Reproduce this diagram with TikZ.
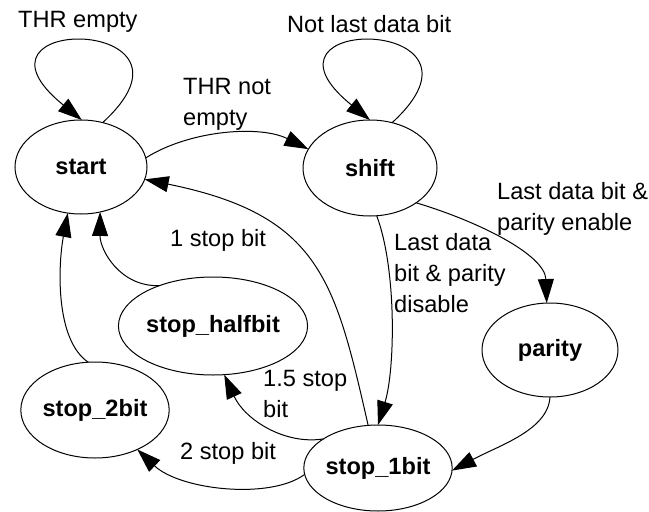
\documentclass[tikz,border=0pt]{standalone}
\usepackage{fontspec}
\setmainfont{Liberation Sans}
\usetikzlibrary{shapes.geometric,arrows.meta}
\begin{document}
\begin{tikzpicture}[x=1pt,y=-1pt,
  st/.style={ellipse,draw,line width=1pt,inner sep=0pt,outer sep=0pt,
    font=\fontsize{23.6}{31}\selectfont\bfseries},
  edge/.style={line width=1pt,-{Triangle[length=24pt,width=16pt]}},
  lbl/.style={anchor=north west,inner sep=0pt,align=left,
    font=\fontsize{23.6}{31}\selectfont}]
\useasboundingbox (0,0) rectangle (649,512);
% states
\node[st,minimum width=132pt,minimum height=94pt] (start) at (81,167) {start};
\node[st,minimum width=134pt,minimum height=96pt] (shift) at (370,168) {shift};
\node[st,minimum width=136pt,minimum height=94pt] (parity) at (550,350) {parity};
\node[st,minimum width=120pt,minimum height=86pt] (s1) at (378,468) {stop\_1bit};
\node[st,minimum width=156pt,minimum height=98pt] (half) at (213,326) {stop\_halfbit};
\node[st,minimum width=134pt,minimum height=96pt] (s2) at (95,410) {stop\_2bit};
% transitions
\draw[edge] (start.64) .. controls +(117,-107) and +(-132,-107) .. (start.89);
\draw[edge] (start.8) .. controls (190,130) and (260,125) .. (shift.163);
\draw[edge] (shift.64) .. controls +(117,-107) and +(-132,-107) .. (shift.90);
\draw[edge] (shift.-37) .. controls (480,222) and (545,255) .. (parity.94);
\draw[edge] (shift.-82) .. controls (397,270) and (395,370) .. (s1.90);
\draw[edge] (parity.-90) .. controls (548,430) and (500,445) .. (s1.-2);
\draw[edge] (s1.103) .. controls (335,280) and (320,215) .. (start.-11);
\draw[edge] (half.143) .. controls (120,287) and (100,250) .. (start.-67);
\draw[edge] (s2.98) .. controls (55,340) and (58,265) .. (start.-106);
\draw[edge] (s1.152) .. controls (285,445) and (245,420) .. (half.-77);
\draw[edge] (s1.185) .. controls (270,500) and (180,490) .. (s2.-43);
% labels
\node[lbl] (l1) at (18,11) {THR empty};
\node[lbl] (l2) at (287,15) {Not last data bit};
\node[lbl] (l3) at (183,78) {THR not\\empty};
\node[lbl] (l4) at (497,182) {Last data bit \&\\parity enable};
\node[lbl] (l5) at (394,233) {Last data\\bit \& parity\\disable};
\node[lbl] (l6) at (170,229) {1 stop bit};
\node[lbl] (l7) at (263,370) {1.5 stop\\bit};
\node[lbl] (l8) at (180,442) {2 stop bit};
\end{tikzpicture}
\end{document}
